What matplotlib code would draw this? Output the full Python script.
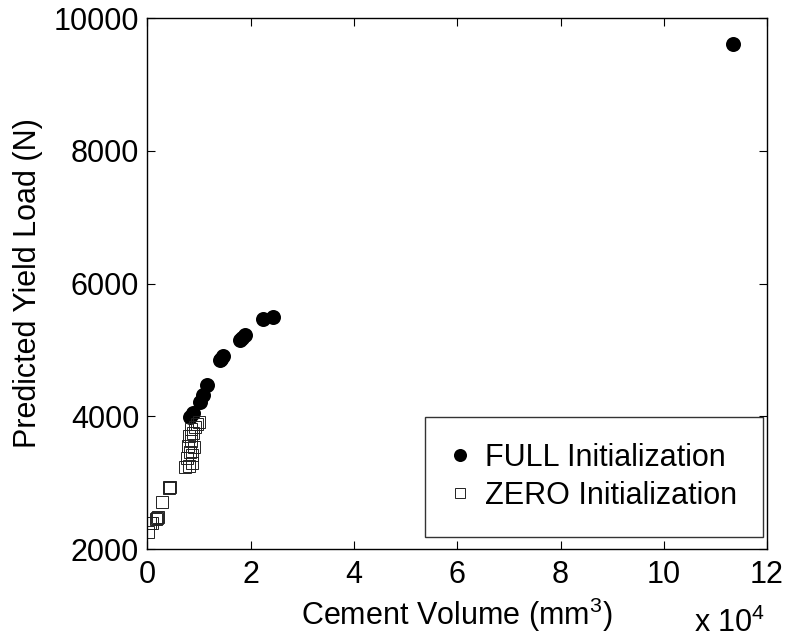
import matplotlib
matplotlib.use("Agg")
import matplotlib.pyplot as plt
from matplotlib.ticker import FuncFormatter

plt.rcParams['font.family'] = ['Liberation Sans', 'DejaVu Sans']
plt.rcParams['mathtext.fontset'] = 'custom'
plt.rcParams['mathtext.rm'] = 'Liberation Sans'
plt.rcParams['mathtext.it'] = 'Liberation Sans'

# FULL initialization (cement volume mm^3, predicted yield load N)
full_vol = [113400, 24260, 22440, 18900, 18260, 18000, 14690, 14300, 14050,
            11470, 10810, 10170, 8880, 8240]
full_load = [9605, 5498, 5459, 5223, 5173, 5150, 4907, 4870, 4846,
             4470, 4319, 4218, 4044, 3992]

# ZERO initialization
zero_vol = [7270, 8040, 8620, 7660, 8240, 7850, 8430, 8040, 8820, 8430, 9210,
            9590, 9980, 9010, 8620, 4100, 4200, 4300, 2750, 1600, 1800, 2000,
            810, 480, 100]
zero_load = [3235, 3250, 3295, 3370, 3461, 3551, 3627, 3702, 3747, 3807, 3837,
             3883, 3913, 3536, 3416, 2920, 2930, 2940, 2703, 2450, 2462, 2490,
             2387, 2387, 2250]

FS = 22

fig = plt.figure(figsize=(7.9, 6.39), dpi=100)
ax = fig.add_axes([0.1867, 0.1408, 0.7842, 0.831])

ax.plot(full_vol, full_load, 'o', color='black', markersize=10.8,
        markeredgewidth=0, label='FULL Initialization')
ax.plot(zero_vol, zero_load, 's', markerfacecolor='none', markeredgecolor='#222222',
        markersize=8.6, markeredgewidth=0.7, label='ZERO Initialization')

ax.set_xlim(0, 120000)
ax.set_ylim(2000, 10000)
ax.set_xticks(range(0, 120001, 20000))
ax.set_yticks(range(2000, 10001, 2000))
ax.xaxis.set_major_formatter(FuncFormatter(lambda v, p: f"{v / 1e4:g}"))

ax.tick_params(direction='in', length=6, width=0.8, labelsize=FS,
               top=True, right=True)
ax.tick_params(axis='x', pad=8)
ax.tick_params(axis='y', pad=6)
for s in ax.spines.values():
    s.set_linewidth(1.0)

ax.set_xlabel('Cement Volume (mm$^3$)', fontsize=FS, labelpad=4)
ax.set_ylabel('Predicted Yield Load (N)', fontsize=FS, labelpad=8)
ax.text(0.997, -0.156, r'x 10$^4$', transform=ax.transAxes, fontsize=FS,
        ha='right', va='baseline')

leg = ax.legend(loc='lower right', bbox_to_anchor=(0.9935, 0.0226),
                fontsize=FS, frameon=True, fancybox=False, edgecolor='black',
                borderaxespad=0, handletextpad=0.5, handlelength=0.6,
                borderpad=0.85, labelspacing=0.27, markerscale=0.87)
leg.get_frame().set_linewidth(1.0)

fig.savefig('out.png', dpi=100)
